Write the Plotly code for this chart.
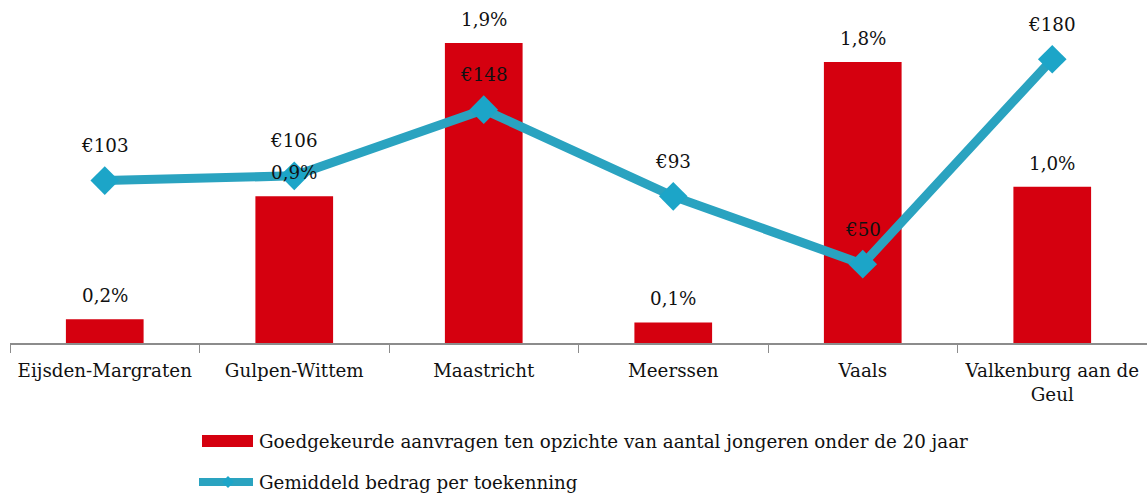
import plotly.graph_objects as go

categories = ["Eijsden-Margraten", "Gulpen-Wittem", "Maastricht", "Meerssen", "Vaals", "Valkenburg aan de<br>Geul"]
pct_values = [0.15, 0.93, 1.90, 0.13, 1.78, 0.99]
pct_labels = ["0,2%", "0,9%", "1,9%", "0,1%", "1,8%", "1,0%"]
amount_values = [103, 106, 148, 93, 50, 180]
amount_labels = ["€103", "€106", "€148", "€93", "€50", "€180"]
legend_bar = "Goedgekeurde aanvragen ten opzichte van aantal jongeren onder de 20 jaar"
legend_line = "Gemiddeld bedrag per toekenning"

FONT = "DejaVu Serif"
FS = 18.3
RED = "#D5000F"
TEAL = "#2AA3C0"

fig = go.Figure()
fig.add_trace(go.Bar(x=categories, y=pct_values, width=0.41, marker=dict(color=RED, line=dict(width=0)),
                     name=legend_bar, showlegend=False, yaxis="y"))
fig.add_trace(go.Scatter(x=categories, y=amount_values, mode="lines+markers", yaxis="y2",
                         line=dict(color=TEAL, width=9),
                         marker=dict(symbol="diamond", size=22, color="#1CA5C8", line=dict(width=0)),
                         name=legend_line, showlegend=False))

annotations = []
for c, v, t in zip(categories, pct_values, pct_labels):
    annotations.append(dict(x=c, y=v, xref="x", yref="y", text=t, showarrow=False,
                            yanchor="bottom", yshift=11, font=dict(family=FONT, size=FS, color="#111")))
for c, v, t in zip(categories, amount_values, amount_labels):
    annotations.append(dict(x=c, y=v, xref="x", yref="y2", text=t, showarrow=False,
                            yanchor="middle", yshift=35, font=dict(family=FONT, size=FS, color="#111")))

# manual legend
def px_x(px):
    return (px - 10) / 1137.0

def px_y(py):
    return (343 - py) / 333.0

annotations.append(dict(x=px_x(257), y=px_y(441), xref="paper", yref="paper", text=legend_bar, showarrow=False,
                        xanchor="left", yanchor="middle", font=dict(family=FONT, size=FS, color="#111")))
annotations.append(dict(x=px_x(257), y=px_y(482), xref="paper", yref="paper", text=legend_line, showarrow=False,
                        xanchor="left", yanchor="middle", font=dict(family=FONT, size=FS, color="#111")))

shapes = [
    dict(type="rect", xref="paper", yref="paper", x0=px_x(202), x1=px_x(253), y0=px_y(447), y1=px_y(435),
         fillcolor=RED, line=dict(width=0)),
    dict(type="line", xref="paper", yref="paper", x0=px_x(199), x1=px_x(253), y0=px_y(482), y1=px_y(482),
         line=dict(color=TEAL, width=8)),
    dict(type="path", xref="paper", yref="paper",
         path=f"M {px_x(228)},{px_y(476)} L {px_x(234)},{px_y(482)} L {px_x(228)},{px_y(488)} L {px_x(222)},{px_y(482)} Z",
         fillcolor="#1CA5C8", line=dict(width=0)),
]

fig.update_layout(
    width=1147, height=493,
    margin=dict(l=10, r=0, t=10, b=150),
    paper_bgcolor="white", plot_bgcolor="white",
    xaxis=dict(showline=True, linecolor="#8C8C8C", linewidth=2, ticks="outside", tickson="boundaries",
               ticklen=8, tickcolor="#8C8C8C", tickwidth=1, showgrid=False, zeroline=False,
               ticklabelstandoff=10,
               tickfont=dict(family=FONT, size=FS, color="#111")),
    yaxis=dict(range=[0, 2.109], visible=False, showgrid=False, zeroline=False),
    yaxis2=dict(range=[0, 211.2], overlaying="y", visible=False, showgrid=False, zeroline=False),
    annotations=annotations,
    shapes=shapes,
    showlegend=False,
)

fig.write_html("out.html", config={"displayModeBar": False},
               post_script="document.body.style.margin='0';document.body.style.overflow='hidden';")
